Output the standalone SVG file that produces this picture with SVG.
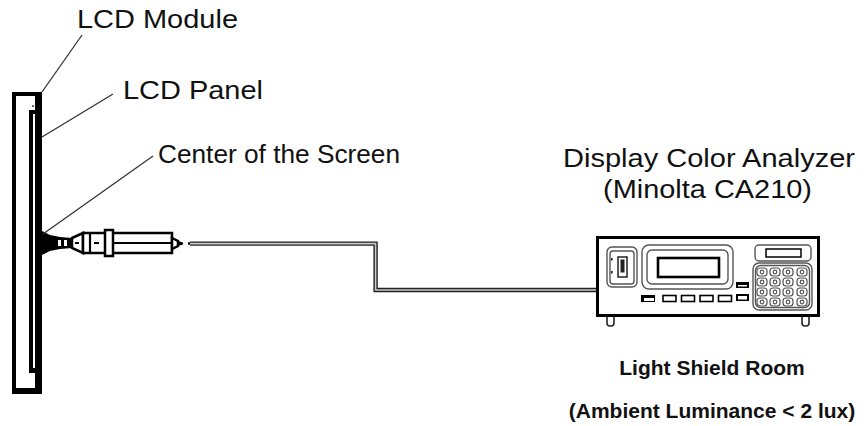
<svg xmlns="http://www.w3.org/2000/svg" width="866" height="426" viewBox="0 0 866 426">
<style>
.lbl{font-family:"Liberation Sans",Arial,sans-serif;font-size:26px;fill:#111}
.bold{font-family:"Liberation Sans",Arial,sans-serif;font-size:21px;font-weight:bold;fill:#111}
.lead{stroke:#333;stroke-width:1.3;fill:none}
.ol{stroke:#000;stroke-width:2.5;fill:#fff}
.soft{stroke:#555;stroke-width:1.4;fill:none}
.key{stroke:#555;stroke-width:1.2;fill:#fff}
.btn{stroke:#000;stroke-width:1.6;fill:#fff}
</style>
<rect width="866" height="426" fill="#fff"/>

<g id="lcd-module">
  <rect x="12" y="92" width="30" height="302" fill="#000"/>
  <rect x="16" y="96" width="19" height="292" fill="#fff"/>
  <rect x="32" y="105" width="2" height="2" fill="#666"/>
</g>
<g id="lcd-panel">
  <rect x="29" y="110" width="6" height="263" fill="#000"/>
  <rect x="33" y="114" width="2" height="254" fill="#fff"/>
</g>

<g id="labels">
  <text class="lbl" x="77" y="28" textLength="161" lengthAdjust="spacingAndGlyphs">LCD Module</text>
  <text class="lbl" x="123" y="99" textLength="140" lengthAdjust="spacingAndGlyphs">LCD Panel</text>
  <text class="lbl" x="158" y="163" textLength="242" lengthAdjust="spacingAndGlyphs">Center of the Screen</text>
</g>

<g id="probe">
  <polygon points="42,231 50,235 60,237 72,238 72,248 60,249 50,251 42,255" fill="#000"/>
  <rect x="58" y="240" width="3" height="6" fill="#fff"/>
  <rect x="64" y="240" width="3" height="6" fill="#fff"/>
  <polygon points="72,238 83,233 83,253 72,248" class="ol" stroke-width="2"/>
  <line x1="75" y1="243" x2="79" y2="243" stroke="#000" stroke-width="2"/>
  <rect x="83" y="233" width="89" height="20" class="ol"/>
  <line x1="90" y1="233" x2="90" y2="253" stroke="#000" stroke-width="2.2"/>
  <line x1="94" y1="243" x2="99" y2="243" stroke="#000" stroke-width="2"/>
  <line x1="113" y1="243" x2="172" y2="243" stroke="#000" stroke-width="2"/>
  <rect x="105" y="230" width="8" height="26" class="ol"/>
  <polygon points="172,238 178,241 178,246 172,249" class="ol" stroke-width="1.6"/>
  <polygon points="178,241 183,242.5 183,244.5 178,246" fill="#000"/>
  <line x1="183" y1="243.5" x2="196" y2="243.5" stroke="#000" stroke-width="2.5" stroke-dasharray="0 5 8 0"/>
</g>

<g id="connectors">
  <path d="M190 243.6 H375.6 V290 H598" fill="none" stroke="#222" stroke-width="4.4"/>
  <path d="M190 243.6 H375.6 V290 H598" fill="none" stroke="#c8c8c8" stroke-width="1.6"/>
</g>

<g id="analyzer">
  <text class="lbl" x="563" y="167" textLength="292" lengthAdjust="spacingAndGlyphs">Display Color Analyzer</text>
  <text class="lbl" x="603" y="198" textLength="209" lengthAdjust="spacingAndGlyphs">(Minolta CA210)</text>
  <rect x="597.5" y="237.5" width="221" height="78" stroke="#000" stroke-width="3" fill="#fff"/>
  <path d="M607 317 v6 q0 3 3 3 h1 q3 0 3 -3 v-6" fill="none" stroke="#222" stroke-width="1.6"/>
  <path d="M802 317 v6 q0 3 3 3 h1 q3 0 3 -3 v-6" fill="none" stroke="#222" stroke-width="1.6"/>
  <rect x="607" y="247" width="30" height="40" rx="5" class="soft"/>
  <rect x="610" y="251" width="24" height="33" rx="3" class="soft"/>
  <rect x="618" y="257" width="9" height="20" stroke="#222" stroke-width="1.5" fill="#fff"/>
  <rect x="620.5" y="259.5" width="4" height="13" fill="#222"/>
  <rect x="611" y="258" width="1.6" height="2.5" fill="#222"/>
  <rect x="611" y="271" width="1.6" height="2.5" fill="#222"/>
  <rect x="642" y="245" width="91" height="44" rx="7" class="soft"/>
  <rect x="647" y="250" width="81" height="34" rx="5" class="soft"/>
  <rect x="658" y="258" width="61" height="19" stroke="#000" stroke-width="2.6" fill="#fff"/>
  <rect x="641" y="295" width="14" height="7" fill="#000"/>
  <rect x="644" y="298" width="10" height="3" fill="#fff"/>
  <rect x="663" y="295.5" width="13" height="6" class="btn"/>
  <rect x="681.5" y="295.5" width="13" height="6" class="btn"/>
  <rect x="700" y="295.5" width="13" height="6" class="btn"/>
  <rect x="718.5" y="295.5" width="13" height="6" class="btn"/>
  <rect x="736" y="282" width="13" height="6" fill="#000"/>
  <rect x="738" y="285" width="9" height="1.5" fill="#fff"/>
  <rect x="736" y="294" width="13" height="7" fill="#000"/>
  <rect x="738" y="296" width="9" height="3.5" fill="#fff"/>
  <rect x="755" y="245" width="56" height="16" rx="4" class="soft"/>
  <rect x="766" y="249" width="35" height="8" stroke="#000" stroke-width="1.5" fill="#fff"/>
  <rect x="753" y="263" width="59" height="47" rx="6" class="soft"/>
  <rect x="755.5" y="265.5" width="54" height="42" rx="5" class="soft" stroke-width="1"/>
  <g id="keys">
    <rect x="757" y="268" width="10" height="8" rx="3" class="key"/><circle cx="762" cy="272" r="1.8" class="key"/>
    <rect x="770" y="268" width="10" height="8" rx="3" class="key"/><circle cx="775" cy="272" r="1.8" class="key"/>
    <rect x="783" y="268" width="10" height="8" rx="3" class="key"/><circle cx="788" cy="272" r="1.8" class="key"/>
    <rect x="797" y="268" width="10" height="8" rx="3" class="key"/><circle cx="802" cy="272" r="1.8" class="key"/>
    <rect x="757" y="278" width="10" height="8" rx="3" class="key"/><circle cx="762" cy="282" r="1.8" class="key"/>
    <rect x="770" y="278" width="10" height="8" rx="3" class="key"/><circle cx="775" cy="282" r="1.8" class="key"/>
    <rect x="783" y="278" width="10" height="8" rx="3" class="key"/><circle cx="788" cy="282" r="1.8" class="key"/>
    <rect x="797" y="278" width="10" height="8" rx="3" class="key"/><circle cx="802" cy="282" r="1.8" class="key"/>
    <rect x="757" y="288" width="10" height="8" rx="3" class="key"/><circle cx="762" cy="292" r="1.8" class="key"/>
    <rect x="770" y="288" width="10" height="8" rx="3" class="key"/><circle cx="775" cy="292" r="1.8" class="key"/>
    <rect x="783" y="288" width="10" height="8" rx="3" class="key"/><circle cx="788" cy="292" r="1.8" class="key"/>
    <rect x="797" y="288" width="10" height="8" rx="3" class="key"/><circle cx="802" cy="292" r="1.8" class="key"/>
    <rect x="757" y="298" width="10" height="8" rx="3" class="key"/><circle cx="762" cy="302" r="1.8" class="key"/>
    <rect x="770" y="298" width="10" height="8" rx="3" class="key"/><circle cx="775" cy="302" r="1.8" class="key"/>
    <rect x="783" y="298" width="10" height="8" rx="3" class="key"/><circle cx="788" cy="302" r="1.8" class="key"/>
    <rect x="797" y="298" width="10" height="8" rx="3" class="key"/><circle cx="802" cy="302" r="1.8" class="key"/>
  </g>
</g>

<g id="room">
  <text class="bold" x="712" y="375" text-anchor="middle">Light Shield Room</text>
  <text class="bold" x="712" y="418" text-anchor="middle">(Ambient Luminance &lt; 2 lux)</text>
</g>

<g id="leaders">
  <line x1="42" y1="92" x2="82" y2="35" class="lead"/>
  <line x1="42" y1="137" x2="113" y2="94" class="lead"/>
  <line x1="43" y1="234" x2="153" y2="156" class="lead"/>
</g>
</svg>
